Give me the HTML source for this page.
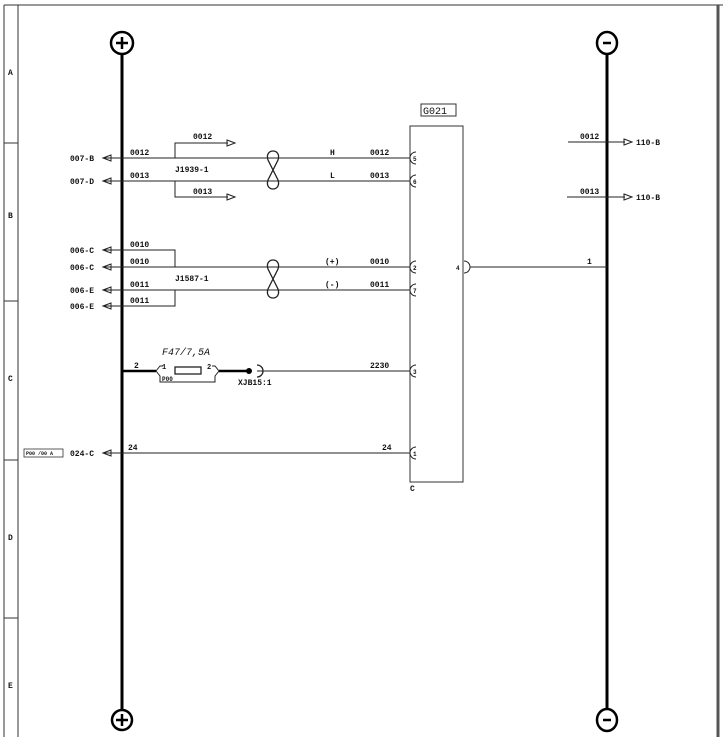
<!DOCTYPE html>
<html><head><meta charset="utf-8"><style>
html,body{margin:0;padding:0;background:#fff;}
svg{display:block;}
text{font-family:"Liberation Mono",monospace;font-size:8px;font-weight:bold;fill:#111;}
</style></head><body>
<svg width="723" height="737" viewBox="0 0 723 737" xmlns="http://www.w3.org/2000/svg">
<g stroke="#333" fill="none">
<line x1="4" y1="5" x2="723" y2="5" stroke-width="1"/>
<line x1="4" y1="5" x2="4" y2="737" stroke-width="1"/>
<line x1="18" y1="5" x2="18" y2="737" stroke-width="1"/>
<line x1="718" y1="5" x2="718" y2="737" stroke-width="3" stroke="#555"/>
<line x1="4" y1="143" x2="18" y2="143"/>
<line x1="4" y1="301" x2="18" y2="301"/>
<line x1="4" y1="460" x2="18" y2="460"/>
<line x1="4" y1="618" x2="18" y2="618"/>
</g>
<text x="8" y="75">A</text><text x="8" y="218">B</text><text x="8" y="381">C</text><text x="8" y="540">D</text><text x="8" y="688">E</text>
<g stroke="#000" fill="none">
<line x1="122" y1="54" x2="122" y2="709" stroke-width="3"/>
<circle cx="122" cy="43" r="11" stroke-width="2.5"/>
<circle cx="122" cy="720" r="10" stroke-width="2.5"/>
<line x1="607" y1="54" x2="607" y2="709" stroke-width="3"/>
<ellipse cx="607" cy="43" rx="10" ry="11" stroke-width="2.5"/>
<ellipse cx="607" cy="720" rx="10" ry="11" stroke-width="2.5"/>
<path d="M116 43h12M122 37v12M116 720h12M122 714v12M603 43h8M603 720h8" stroke-width="2.5"/>
</g>
<g stroke="#333" fill="none" stroke-width="1">
<rect x="410" y="126" width="53" height="356"/>
<rect x="421" y="104" width="35" height="12"/>
</g>
<text x="423" y="114" style="font-size:10px;font-weight:normal">G021</text>
<text x="410" y="491">C</text>
<g stroke="#222" fill="none" stroke-width="1">
<line x1="103" y1="158" x2="410" y2="158"/>
<line x1="103" y1="181" x2="410" y2="181"/>
<path d="M175 158V143H228M175 181V197H228"/>
<path d="M103 250H175V267M103 306H175V290"/>
<line x1="103" y1="267" x2="410" y2="267"/>
<line x1="103" y1="290" x2="410" y2="290"/>
<line x1="257" y1="371" x2="410" y2="371"/>
<line x1="103" y1="453" x2="410" y2="453"/>
<line x1="470" y1="267" x2="607" y2="267"/>
<line x1="568" y1="142" x2="625" y2="142"/>
<line x1="567" y1="197" x2="625" y2="197"/>
<path d="M416 152a6 6 0 0 0 0 12M416 175a6 6 0 0 0 0 12M416 261a6 6 0 0 0 0 12M416 284a6 6 0 0 0 0 12M416 365a6 6 0 0 0 0 12M416 447a6 6 0 0 0 0 12M464 261a6 6 0 0 1 0 12"/>
<path d="M103 158l8-3v6zM103 181l8-3v6zM103 250l8-3v6zM103 267l8-3v6zM103 290l8-3v6zM103 306l8-3v6zM103 453l8-3v6z"/>
<path d="M235 143l-8-3v6zM235 197l-8-3v6zM632 142l-8-3v6zM632 197l-8-3v6z"/>
<g stroke-width="1.3">
<path d="M268 160C264 148 282 148 278 160L268 180C264 192 282 192 278 180Z"/>
<path d="M268 269C264 257 282 257 278 269L268 289C264 301 282 301 278 289Z"/>
</g>
<path d="M156 371l4-5h3M156 371l4 5v6h55v-6l4-5-4-5h-3"/>
<rect x="175" y="367" width="26" height="7" stroke-width="1.3"/>
<path d="M257 365a6 6 0 0 1 0 12" stroke-width="1.3"/>
</g>
<g stroke="#000" stroke-width="2.5"><line x1="122" y1="371" x2="156" y2="371"/><line x1="219" y1="371" x2="248" y2="371"/></g>
<circle cx="249" cy="371" r="3" fill="#000"/>
<text x="70" y="161">007-B</text><text x="70" y="184">007-D</text>
<text x="70" y="253">006-C</text><text x="70" y="270">006-C</text>
<text x="70" y="293">006-E</text><text x="70" y="309">006-E</text>
<text x="70" y="456">024-C</text>
<rect x="24" y="449" width="39" height="8" fill="none" stroke="#333" stroke-width="0.8"/>
<text x="26" y="455" style="font-size:5px">P00 /00 A</text>
<text x="130" y="155">0012</text><text x="130" y="178">0013</text>
<text x="193" y="139">0012</text><text x="193" y="194">0013</text>
<text x="175" y="172">J1939-1</text>
<text x="330" y="155">H</text><text x="330" y="178">L</text>
<text x="370" y="155">0012</text><text x="370" y="178">0013</text>
<text x="130" y="247">0010</text><text x="130" y="264">0010</text>
<text x="130" y="287">0011</text><text x="130" y="303">0011</text>
<text x="175" y="281">J1587-1</text>
<text x="325" y="264">(+)</text><text x="325" y="287">(-)</text>
<text x="370" y="264">0010</text><text x="370" y="287">0011</text>
<text x="413" y="161" style="font-size:6px">5</text><text x="413" y="184" style="font-size:6px">6</text>
<text x="413" y="270" style="font-size:6px">2</text><text x="413" y="293" style="font-size:6px">7</text>
<text x="413" y="374" style="font-size:6px">3</text><text x="413" y="456" style="font-size:6px">1</text>
<text x="456" y="270" style="font-size:6px">4</text>
<text x="587" y="264">1</text>
<text x="580" y="139">0012</text><text x="580" y="194">0013</text>
<text x="636" y="145">110-B</text><text x="636" y="200">110-B</text>
<text x="162" y="355" style="font-size:10px;font-style:italic;font-weight:normal">F47/7,5A</text>
<text x="134" y="368">2</text><text x="162" y="369" style="font-size:7px">1</text><text x="207" y="369" style="font-size:7px">2</text>
<text x="162" y="381" style="font-size:6px">P00</text>
<text x="238" y="385">XJB15:1</text>
<text x="370" y="368">2230</text>
<text x="128" y="450">24</text><text x="382" y="450">24</text>
</svg>
</body></html>
